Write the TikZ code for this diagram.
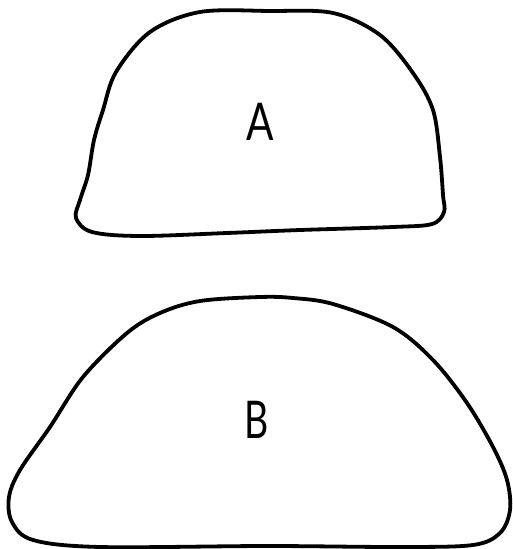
\documentclass[tikz,border=0pt]{standalone}
\usepackage{fontspec}
\setmainfont{Lato}
\begin{document}
\begin{tikzpicture}[x=1pt,y=-1pt,
  outline/.style={draw=black,line width=3.8pt,line join=round},
  lab/.style={font=\fontsize{52}{52}\selectfont,inner sep=0pt}]
\useasboundingbox (0,0) rectangle (512,549);
% shape A
\draw[outline] plot[smooth cycle,tension=0.55] coordinates {
 (200,12) (270,11) (333,13) (380,35) (413,73) (433,110) (440,157)
 (443,195) (444,212) (432,224) (393,227) (300,230) (227,233) (140,236) (92,232) (76,218) (80,200)
 (88,175) (94,140) (103,110) (116,72) (150,32)};
% shape B
\draw[outline] plot[smooth cycle,tension=0.55] coordinates {
 (200,301) (260,297) (293,298) (333,304) (393,327) (433,360) (467,403)
 (493,447) (507,480) (510,510) (500,533) (473,545) (400,547) (267,546)
 (100,547) (33,540) (12,522) (9,497) (20,470) (50,427) (83,377) (127,333) (160,313)};
\node[lab] (la) at (260,122) {\scalebox{0.78}[1]{A}};
\node[lab] (lb) at (257,420) {\scalebox{0.72}[1]{B}};
\end{tikzpicture}
\end{document}
